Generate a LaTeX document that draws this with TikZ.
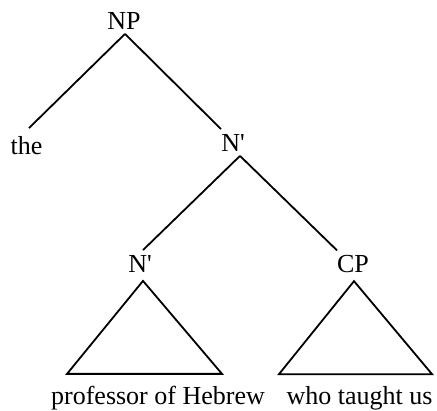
\documentclass[tikz,border=0pt]{standalone}
\usepackage{fontspec}
\setmainfont{Liberation Serif}
\begin{document}
\begin{tikzpicture}[x=1pt, y=-1pt, line width=1.8pt,
    lbl/.style={anchor=base, inner sep=0pt, font=\fontsize{26}{30}\selectfont}]
    \useasboundingbox (0,0) rectangle (437,411);
    % Top level
    \node[lbl] (np) at (124,30) {NP};
    \node[lbl] (the) at (26.5,155) {the};
    \node[lbl] (nbar1) at (233,152) {N\textquotesingle};
    \draw ([shift={(1,3)}]np.south) -- ([shift={(2.5,-8)}]the.north);
    \draw ([shift={(1,3)}]np.south) -- ([shift={(-12,-5)}]nbar1.north);
    
    % Lower level
    \node[lbl] (nbar2) at (140,273) {N\textquotesingle};
    \node[lbl] (cp) at (353,273) {CP};
    \draw ([shift={(7,3)}]nbar1.south) -- ([shift={(3,-5)}]nbar2.north);
    \draw ([shift={(7,3)}]nbar1.south) -- ([shift={(-16,-4.5)}]cp.north);
    
    % Triangles
    \node[lbl] (prof) at (158,405) {professor of Hebrew};
    \node[lbl] (who) at (359.5,405) {who taught us};
    \draw ([shift={(3,7)}]nbar2.south) -- ++(-76,93) -- ++(155,0) -- cycle;
    \draw ([shift={(1,7)}]cp.south) -- ++(-75,93) -- ++(153,0) -- cycle;
\end{tikzpicture}
\end{document}
